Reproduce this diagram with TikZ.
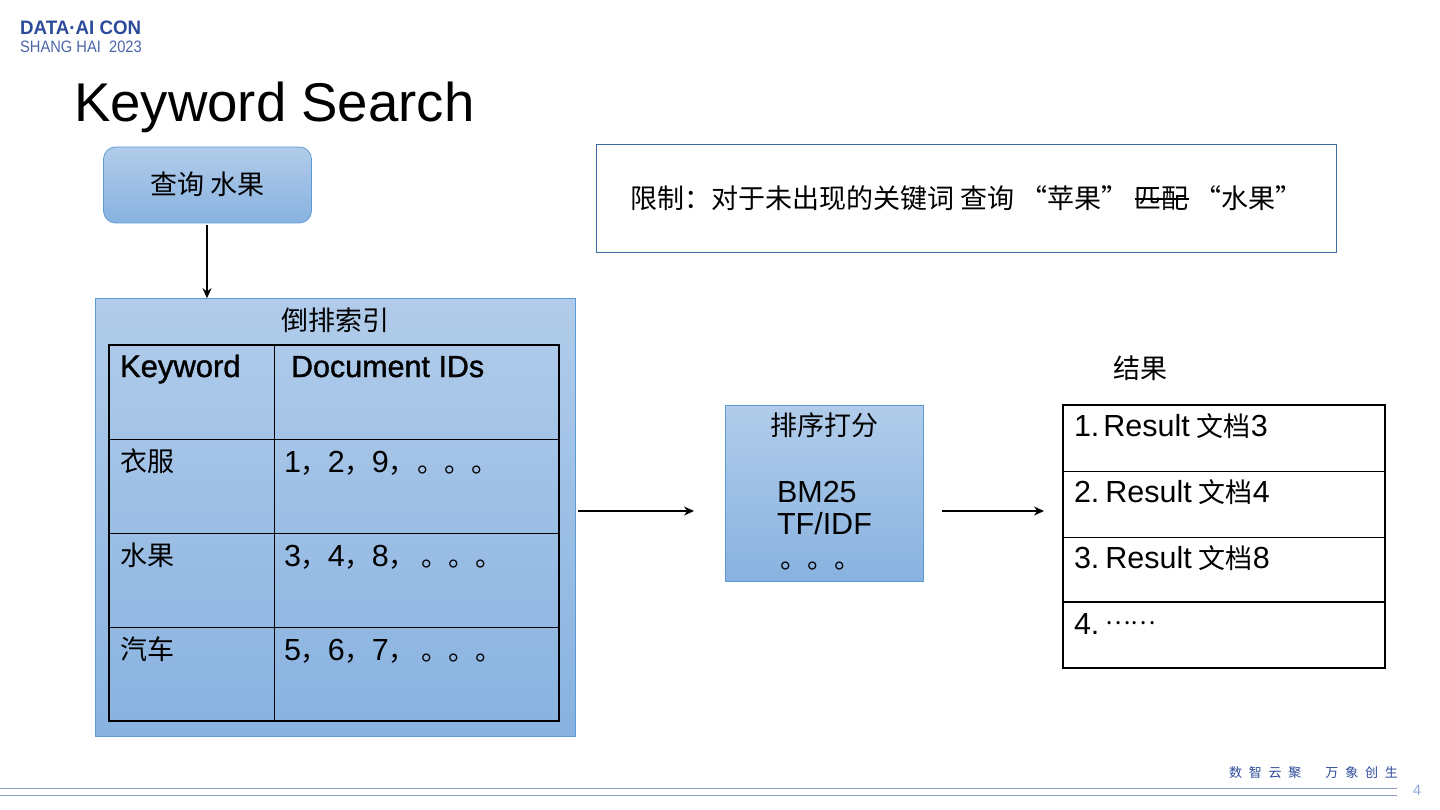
\documentclass[tikz,border=0pt]{standalone}
\usepackage{fontspec}
\setmainfont{Liberation Sans}
\newfontfamily\cjk{Noto Sans CJK SC}
\newfontfamily\cjkspaced[LetterSpace=52]{Noto Sans CJK SC}
\newfontfamily\heavy[FakeBold=1.2]{Liberation Sans}
\usetikzlibrary{arrows.meta}
\definecolor{boxedge}{HTML}{5B9BD5}
\definecolor{boxtop}{HTML}{B1CCEA}
\definecolor{boxbottom}{HTML}{88B2E0}
\definecolor{noteedge}{HTML}{3F6BA8}
\definecolor{logoblue}{HTML}{2C4A9A}
\definecolor{footline}{HTML}{8C9CC6}
\definecolor{pagenum}{HTML}{8FA8D8}
\newcommand{\fs}[1]{\fontsize{#1}{#1}\selectfont}
\newcommand{\Cn}[1]{{\fs{27}\cjk #1}}
\tikzset{
  panel/.style={draw=boxedge,line width=0.7pt,top color=boxtop,bottom color=boxbottom,inner sep=0pt},
  txt/.style={inner sep=0pt,outer sep=0pt,text=black,font=\fs{30.5}},
  basetxt/.style={txt,anchor=base west},
  arrow/.style={draw=black,line width=1.1pt,-{Stealth[length=10pt,width=9pt]}},
  gridline/.style={draw=black,line width=1.4pt},
  thinline/.style={draw=black,line width=0.9pt},
}
\begin{document}
\begin{tikzpicture}[x=1pt,y=-1pt]
\useasboundingbox (0,0) rectangle (1440,810);
% logo
\node[inner sep=0pt,anchor=base west,text=logoblue,font=\fs{19.5}\bfseries] (logoa) at (20,35) {\scalebox{.96}[1]{DATA·AI CON}};
\node[inner sep=0pt,anchor=base west,text=logoblue!85,font=\fs{16.5}] (logob) at (20,53) {\scalebox{.89}[1]{SHANG HAI\ \ 2023}};
% title
\node[basetxt,font=\fs{54.6}] (title) at (74,122) {Keyword Search};
% query
\node[panel,rounded corners=12pt,minimum width=208pt,minimum height=76pt] (query) at (207.5,185) {};
\node[txt] (querytxt) at (207.5,184) {\Cn{查询 水果}};
% note
\node[draw=noteedge,line width=0.8pt,minimum width=740pt,minimum height=108pt,inner sep=0pt] (note) at (966.5,198) {};
\node[txt,anchor=west] (notetxt) at (630,198) {\Cn{限制：对于未出现的关键词 查询 “苹果” 匹配 “水果”}};
\coordinate (strikea) at (1135,199);
\coordinate (strikeb) at (1189,199);
\draw[black,line width=1.3pt] (strikea) -- (strikeb);
% index
\node[panel,minimum width=480pt,minimum height=438pt] (index) at (335,517.5) {};
\node[txt] (indextitle) at (335,320) {\Cn{倒排索引}};
\draw[gridline] (109,345) rectangle (559,721);
\draw[thinline] (274,345) -- (274,721);
\draw[thinline] (109,439) -- (559,439);
\draw[thinline] (109,533) -- (559,533);
\draw[thinline] (109,627) -- (559,627);
\node[basetxt,font=\fs{31}\heavy] (hkey) at (120,377) {Keyword};
\node[basetxt,font=\fs{30.5}\heavy] (hdoc) at (291,377) {Document IDs};
\node[txt,anchor=west] (k1) at (120,461) {\Cn{衣服}};
\node[txt,anchor=west] (k2) at (120,555) {\Cn{水果}};
\node[txt,anchor=west] (k3) at (120,649) {\Cn{汽车}};
\node[basetxt] (d1) at (284,472) {1\Cn{，}2\Cn{，}9\Cn{，}\hspace{2pt}\Cn{。。。}};
\node[basetxt] (d2) at (284,566) {3\Cn{，}4\Cn{，}8\Cn{，}\hspace{6pt}\Cn{。。。}};
\node[basetxt] (d3) at (284,660) {5\Cn{，}6\Cn{，}7\Cn{，}\hspace{6pt}\Cn{。。。}};
% rank
\node[panel,minimum width=198pt,minimum height=176pt] (rank) at (824,493) {};
\node[txt] (ranktitle) at (824,425) {\Cn{排序打分}};
\node[basetxt] (bm) at (777,502) {BM25};
\node[basetxt] (tf) at (777,534) {TF/IDF};
\node[txt,anchor=center] (dots) at (820.5,566) {\Cn{。。。}};
% results
\node[txt] (restitle) at (1140,368) {\Cn{结果}};
\draw[gridline] (1063,405) rectangle (1385,668);
\draw[thinline] (1063,471) -- (1385,471);
\draw[thinline] (1063,537) -- (1385,537);
\draw[gridline] (1063,602) -- (1385,602);
\node[basetxt] (r1) at (1074,436) {1.\hspace{4pt}Result\hspace{7pt}\Cn{文档}3};
\node[basetxt] (r2) at (1074,502) {2.\hspace{6pt}Result\hspace{7pt}\Cn{文档}4};
\node[basetxt] (r3) at (1074,568) {3.\hspace{6pt}Result\hspace{7pt}\Cn{文档}8};
\node[basetxt] (r4) at (1074,634) {4.\hspace{6pt}\raisebox{10pt}{\fs{24}\cjk ……}};
% connectors
\coordinate (qs) at (207,225);
\coordinate (a1s) at (578,511);
\coordinate (a1e) at (694,511);
\coordinate (a2s) at (942,511);
\coordinate (a2e) at (1044,511);
\draw[arrow] (qs) -- (qs |- index.north);
\draw[arrow] (a1s) -- (a1e);
\draw[arrow] (a2s) -- (a2e);
% footer
\node[inner sep=0pt,anchor=west,text=logoblue,font=\fs{13}] (slogan) at (1229,772.5) {\cjkspaced 数智云聚\hspace{24pt}万象创生};
\coordinate (fa) at (0,788);
\coordinate (fb) at (1397,788);
\coordinate (fc) at (0,795);
\coordinate (fd) at (1397,795);
\draw[footline,line width=1pt] (fa) -- (fb);
\draw[footline,line width=1pt] (fc) -- (fd);
\node[inner sep=0pt,text=pagenum,font=\fs{15}] (pagen) at (1417,790.5) {4};
\end{tikzpicture}
\end{document}
